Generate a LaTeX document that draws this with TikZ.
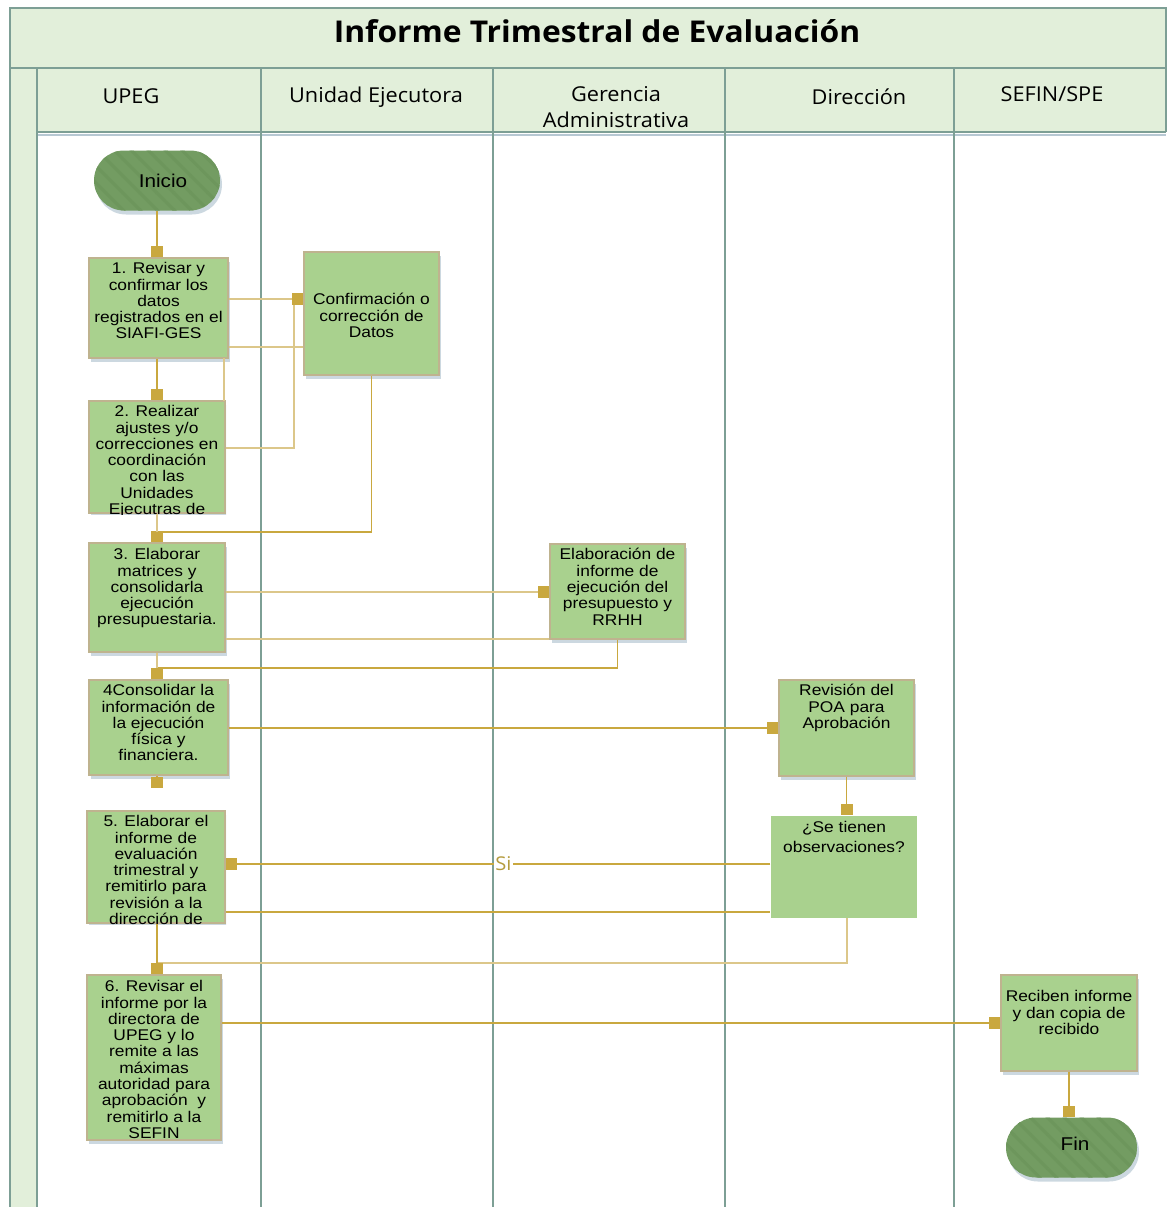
\documentclass[tikz,border=0pt]{standalone}
\usepackage{fontspec}
\usepackage{tikz}
\usetikzlibrary{positioning, shapes, shapes.misc, arrows.meta, shadows, patterns.meta}
\newfontfamily\boxfont[FakeStretch=1.12]{Liberation Sans}
\newfontfamily\headfont[FakeStretch=1.06]{Open Sans}
\definecolor{headgreen}{HTML}{E2EFDA}
\definecolor{lanegray}{HTML}{7D9F95}
\definecolor{boxgreen}{HTML}{A9D18E}
\definecolor{boxedge}{HTML}{BFB38F}
\definecolor{termgreen}{HTML}{739C62}
\definecolor{termhatch}{HTML}{6D965C}
\definecolor{gold}{HTML}{C9A83F}
\definecolor{lightgold}{HTML}{DCC78A}
\definecolor{shadowblue}{HTML}{B7C8D3}
\definecolor{sigold}{HTML}{B59C3E}
\newcommand{\steptext}[4]{\parbox[c][#2][t]{#1}{\centering\vspace*{#3}#4}}

\tikzset{
  procbase/.style={draw=boxedge, line width=1.5pt, fill=boxgreen, inner sep=0pt,
    font=\boxfont\fontsize{15.5}{16.3}\selectfont},
  proc/.style={procbase,
    drop shadow={shadow xshift=2pt, shadow yshift=-4pt, fill=shadowblue, opacity=0.7}},
  term/.style={rounded rectangle, fill=termgreen, inner sep=0pt,
    minimum height=60pt, font=\boxfont\fontsize{18.5}{20}\selectfont,
    drop shadow={shadow xshift=2pt, shadow yshift=-4pt, fill=shadowblue, opacity=0.7},
    postaction={pattern={Lines[angle=-45, distance=12pt, line width=3pt]}, pattern color=termhatch}},
  head/.style={font=\headfont\fontsize{20.5}{26}\selectfont, align=center},
  lane/.style={draw=lanegray, line width=2pt},
  flow/.style={draw=gold, line width=1.4pt, -{Square[length=11pt, width=12pt, color=gold]}},
  link/.style={draw=lightgold, line width=1.2pt}
}

\begin{document}
\begin{tikzpicture}[x=1pt, y=-1pt]
  \useasboundingbox (0,0) rectangle (1167,1207);

  % Draw the frame and the header
  \fill[headgreen] (10,8) rectangle (1166,68);
  \fill[headgreen] (37,68) rectangle (1166,132);
  \fill[headgreen] (10,68) rectangle (37,1207);
  \draw[shadowblue, line width=2pt] (37,134.5) -- (1166,134.5);
  \draw[lane] (10,1207) -- (10,8) -- (1166,8) -- (1166,132);
  \draw[lane] (10,68) -- (1166,68);
  \draw[lane] (37,132) -- (1166,132);

  % Draw the swimlanes
  \foreach \x in {37,261,493,725,954}
    \draw[lane] (\x,68) -- (\x,1207);

  \node[font=\headfont\bfseries\fontsize{30}{34}\selectfont] (title) at (597,31) {Informe Trimestral de Evaluación};
  \node[head] (upeg) at (131,96) {UPEG};
  \node[head] (unidad) at (376,97) {Unidad Ejecutora};
  \node[head] (geren) at (616,107) {Gerencia\\Administrativa};
  \node[head] (direc) at (859,97) {Dirección};
  \node[head] (sefin) at (1052,94) {SEFIN/SPE};

  % Steps of the process
  \node[term, minimum width=126pt] (ini) at (157,180.5) {\hspace*{12pt}Inicio};
  \node[proc] (b1) at (158.5,308) {\steptext{139pt}{100pt}{4.5pt}{1. Revisar y\\confirmar los\\datos\\registrados en el\\SIAFI-GES}};
  \node[proc] (conf) at (371.5,313.5) {\steptext{135pt}{123pt}{41.5pt}{Confirmación o\\corrección de\\Datos}};
  \begin{scope}
    \clip (88,400) rectangle (226,514);
    \node[proc] (b2) at (157,457) {\steptext{136pt}{112pt}{4.5pt}{2. Realizar\\ajustes y/o\\correcciones en\\coordinación\\con las\\Unidades\\Ejecutras de}};
  \end{scope}
  \node[proc] (b3) at (157,597.5) {\steptext{136pt}{109pt}{5.5pt}{3. Elaborar\\matrices y\\consolidarla\\ejecución\\presupuestaria.}};
  \node[proc] (elab) at (617.5,591.5) {\steptext{135pt}{95pt}{4.5pt}{Elaboración de\\informe de\\ejecución del\\presupuesto y\\RRHH}};
  \node[proc] (b4) at (158.5,727.5) {\steptext{139pt}{95pt}{4.5pt}{4Consolidar la\\información de\\la ejecución\\física y\\financiera.}};
  \node[proc] (rev) at (846.5,728) {\steptext{135pt}{96pt}{4.5pt}{Revisión del\\POA para\\Aprobación}};
  \node[procbase, draw=none] (obs) at (844,867) {\steptext{146pt}{102pt}{5.5pt}{¿Se tienen\\[3.7pt]observaciones?}};
  \begin{scope}
    \clip (86,810) rectangle (226,924);
    \node[proc] (b5) at (156,867) {\steptext{138pt}{112pt}{4.5pt}{5. Elaborar el\\informe de\\evaluación\\trimestral y\\remitirlo para\\revisión a la\\dirección de}};
  \end{scope}
  \node[proc] (b6) at (154,1057.5) {\steptext{134pt}{165pt}{5.5pt}{6. Revisar el\\informe por la\\directora de\\UPEG y lo\\remite a las\\máximas\\autoridad para\\aprobación~ y\\remitirlo a la\\SEFIN}};
  \node[proc] (rec) at (1069,1023) {\steptext{136pt}{96pt}{15.5pt}{Reciben informe\\y dan copia de\\recibido}};
  \node[term, minimum width=131pt] (fin) at (1071.5,1147.5) {\hspace*{7pt}\raisebox{7pt}{Fin}};
  \coordinate (b4end) at (157,788);

  % Draw the connectors
  \draw[flow] (ini.south) -- (ini.south |- b1.north);
  \draw[flow, draw=lightgold] (b2.east |- 0,448) -| (294,299) -- (conf.west |- 0,299);
  \draw[flow, draw=lightgold] (b1.east |- 0,299) -- (conf.west |- 0,299);
  \draw[link] (b1.east |- 0,347) -- (conf.west |- 0,347);
  \draw[flow] (ini.south |- b1.south) -- (ini.south |- b2.north);
  \draw[link] (224,358) -- (224,401);
  \draw[flow] (conf.south) |- (157,532) -- (ini.south |- b3.north);
  \draw[link] (ini.south |- b2.south) -- (157,532);
  \draw[flow, draw=lightgold] (b3.east |- 0,592) -- (elab.west |- 0,592);
  \draw[link] (b3.east |- 0,639) -- (elab.west |- 0,639);
  \draw[flow] (elab.south) |- (157,668) -- (ini.south |- b4.north);
  \draw[link] (ini.south |- b3.south) -- (157,668);
  \draw[flow] (b4.east |- 0,728) -- (rev.west |- 0,728);
  \draw[flow] (ini.south |- b4.south) -- (b4end);
  \draw[flow] (rev.south) -- (rev.south |- obs.north);
  \draw[flow] (obs.west |- 0,864) -- node[pos=0.49, fill=white, inner sep=1pt, text=sigold, font=\headfont\fontsize{19}{20}\selectfont] (si) {Si} (b5.east |- 0,864);
  \draw[link, draw=gold] (b5.east |- 0,912) -- (obs.west |- 0,912);
  \draw[flow, draw=lightgold] (847,918) |- (157,963) -- (ini.south |- b6.north);
  \draw[link, draw=gold] (ini.south |- b5.south) -- (157,963);
  \draw[flow] (b6.east |- 0,1023) -- (rec.west |- 0,1023);
  \draw[flow] (rec.south) -- (rec.south |- fin.north);

\end{tikzpicture}
\end{document}
